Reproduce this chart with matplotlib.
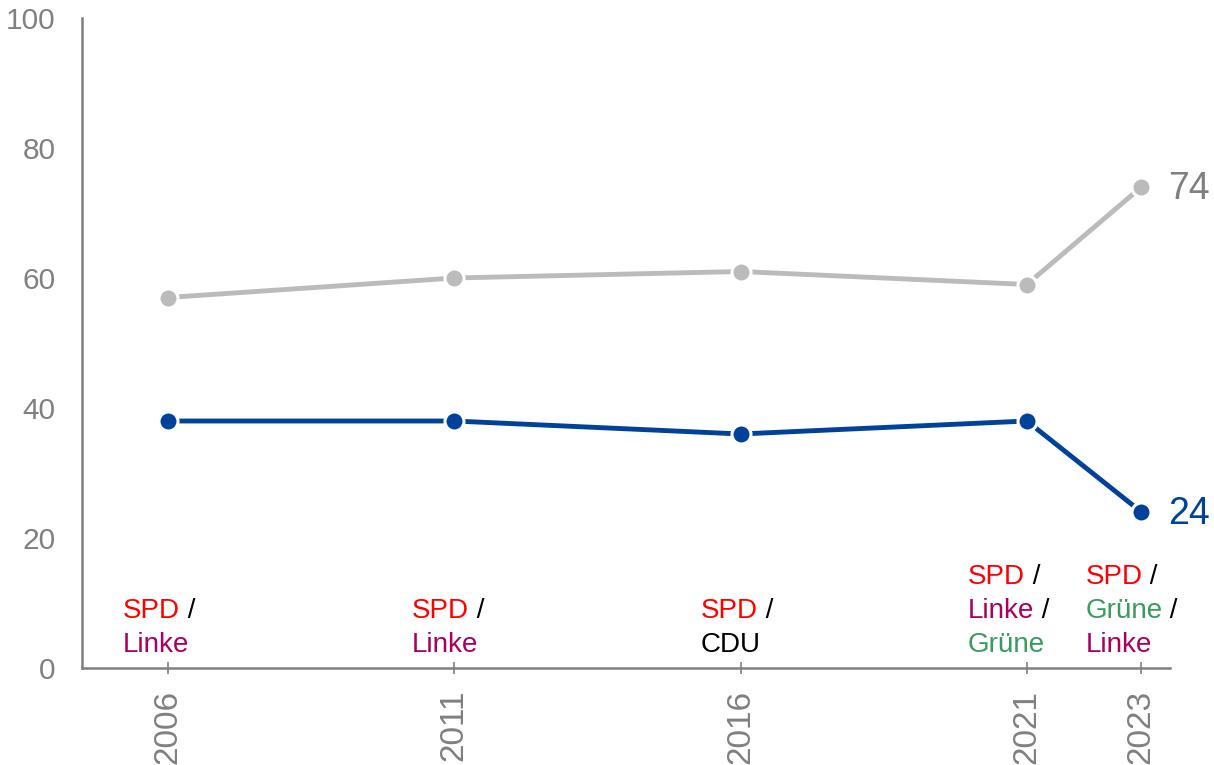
import matplotlib
matplotlib.use("Agg")
import matplotlib.pyplot as plt
from matplotlib.offsetbox import TextArea, HPacker, VPacker, AnnotationBbox

plt.rcParams['font.family'] = ['Liberation Sans', 'DejaVu Sans']

years = [2006, 2011, 2016, 2021, 2023]
gray_vals = [57, 60, 61, 59, 74]
blue_vals = [38, 38, 36, 38, 24]
yticks = [0, 20, 40, 60, 80, 100]

# party coalition labels: list of lines, each line a list of (text, party)
coalitions = [
    [[("SPD", "SPD"), (" /", "sep")], [("Linke", "Linke")]],
    [[("SPD", "SPD"), (" /", "sep")], [("Linke", "Linke")]],
    [[("SPD", "SPD"), (" /", "sep")], [("CDU", "CDU")]],
    [[("SPD", "SPD"), (" /", "sep")], [("Linke", "Linke"), (" /", "sep")], [("Grüne", "Grüne")]],
    [[("SPD", "SPD"), (" /", "sep")], [("Grüne", "Grüne"), (" /", "sep")], [("Linke", "Linke")]],
]
party_colors = {"SPD": "#FF0000", "Linke": "#A8005F", "Grüne": "#3A9B5E", "CDU": "#000000", "sep": "#000000"}
label_dx_px = [-45, -42, -40, -59, -56]

GRAY_LINE = "#BBBBBB"
BLUE = "#00429A"
AX_GRAY = "#808080"

fig = plt.figure(figsize=(12.14, 7.65), dpi=100)
ax = fig.add_axes([82/1214, 1-668/765, (1170-82)/1214, (668-18)/765])

ax.plot(years, gray_vals, color=GRAY_LINE, lw=3.5, marker='o', ms=13.7,
        markeredgecolor='white', markeredgewidth=2.2, clip_on=False, zorder=3)
ax.plot(years, blue_vals, color=BLUE, lw=3.5, marker='o', ms=13.7,
        markeredgecolor='white', markeredgewidth=2.2, clip_on=False, zorder=4)

ax.annotate(str(gray_vals[-1]), (years[-1], gray_vals[-1]), xytext=(19, -1.5),
            textcoords='offset points', ha='left', va='center', fontsize=27, color=AX_GRAY)
ax.annotate(str(blue_vals[-1]), (years[-1], blue_vals[-1]), xytext=(19, -1.5),
            textcoords='offset points', ha='left', va='center', fontsize=27, color=BLUE)

ax.set_xlim(2004.5, 2023.5)
ax.set_ylim(0, 100)
ax.set_xticks(years)
ax.set_xticklabels([str(y) for y in years], rotation=90, fontsize=24, color=AX_GRAY)
ax.set_yticks(yticks)
ax.set_yticklabels([str(v) for v in yticks], fontsize=21.5, color=AX_GRAY)
ax.tick_params(axis='y', length=0, pad=19)
ax.tick_params(axis='x', length=9, width=1.2, color=AX_GRAY, pad=11, direction='inout')

for s in ['top', 'right']:
    ax.spines[s].set_visible(False)
for s in ['left', 'bottom']:
    ax.spines[s].set_color(AX_GRAY)
    ax.spines[s].set_linewidth(1.8)

for yr, lines, dx in zip(years, coalitions, label_dx_px):
    rows = []
    for line in lines:
        parts = [TextArea(t, textprops=dict(color=party_colors[p], fontsize=20)) for t, p in line]
        rows.append(HPacker(children=parts, align="baseline", pad=0, sep=0))
    box = VPacker(children=rows, align="left", pad=0, sep=5.5)
    ab = AnnotationBbox(box, (yr, 0), xybox=(dx * 0.72, 7.5), xycoords='data',
                        boxcoords='offset points', box_alignment=(0, 0), frameon=False)
    ax.add_artist(ab)

fig.savefig("out.png", dpi=100)
